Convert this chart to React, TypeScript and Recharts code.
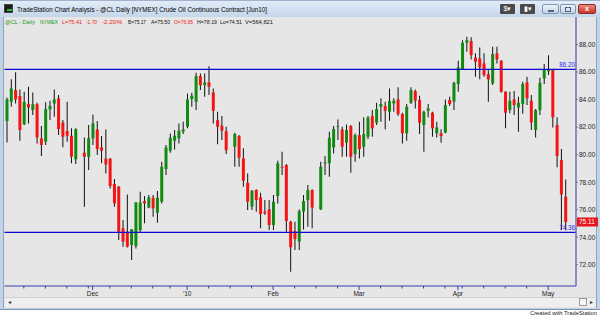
import React from 'react';
import { ComposedChart, Bar, XAxis, YAxis, ReferenceLine, Cell } from 'recharts';

// ---------- data ----------
const dates = [
  '2009-11-03','2009-11-04','2009-11-05','2009-11-06','2009-11-09','2009-11-10','2009-11-11','2009-11-12','2009-11-13','2009-11-16',
  '2009-11-17','2009-11-18','2009-11-19','2009-11-20','2009-11-23','2009-11-24','2009-11-25','2009-11-26','2009-11-27','2009-11-30',
  '2009-12-01','2009-12-02','2009-12-03','2009-12-04','2009-12-07','2009-12-08','2009-12-09','2009-12-10','2009-12-11','2009-12-14',
  '2009-12-15','2009-12-16','2009-12-17','2009-12-18','2009-12-21','2009-12-22','2009-12-23','2009-12-24','2009-12-28','2009-12-29',
  '2009-12-30','2009-12-31','2010-01-04','2010-01-05','2010-01-06','2010-01-07','2010-01-08','2010-01-11','2010-01-12','2010-01-13',
  '2010-01-14','2010-01-15','2010-01-18','2010-01-19','2010-01-20','2010-01-21','2010-01-22','2010-01-25','2010-01-26','2010-01-27',
  '2010-01-28','2010-01-29','2010-02-01','2010-02-02','2010-02-03','2010-02-04','2010-02-05','2010-02-08','2010-02-09','2010-02-10',
  '2010-02-11','2010-02-12','2010-02-15','2010-02-16','2010-02-17','2010-02-18','2010-02-19','2010-02-22','2010-02-23','2010-02-24',
  '2010-02-25','2010-02-26','2010-03-01','2010-03-02','2010-03-03','2010-03-04','2010-03-05','2010-03-08','2010-03-09','2010-03-10',
  '2010-03-11','2010-03-12','2010-03-15','2010-03-16','2010-03-17','2010-03-18','2010-03-19','2010-03-22','2010-03-23','2010-03-24',
  '2010-03-25','2010-03-26','2010-03-29','2010-03-30','2010-03-31','2010-04-01','2010-04-05','2010-04-06','2010-04-07','2010-04-08',
  '2010-04-09','2010-04-12','2010-04-13','2010-04-14','2010-04-15','2010-04-16','2010-04-19','2010-04-20','2010-04-21','2010-04-22',
  '2010-04-23','2010-04-26','2010-04-27','2010-04-28','2010-04-29','2010-04-30','2010-05-03','2010-05-04','2010-05-05','2010-05-06',
  '2010-05-07',
];

const opens = [
  82.44,83.84,84.69,84.26,82.20,83.67,83.24,83.67,81.18,80.94,
  83.29,83.72,84.09,82.34,81.71,81.38,79.66,null,80.14,79.85,
  81.18,81.83,80.53,79.71,79.71,77.87,77.67,74.65,74.40,73.44,
  73.36,74.52,76.63,76.15,76.87,75.78,76.58,78.95,80.29,81.01,
  81.18,81.67,82.03,84.04,83.84,85.71,85.05,85.25,84.52,82.51,
  82.10,81.71,null,80.58,81.35,79.73,77.96,76.22,77.43,76.90,
  75.86,76.03,74.89,77.00,79.12,79.25,75.13,74.45,73.68,75.86,
  76.70,77.43,null,76.03,79.37,79.37,80.53,82.03,81.83,80.87,
  82.08,80.05,81.42,80.58,81.30,82.80,82.32,83.48,83.53,83.12,
  83.72,84.01,82.95,81.55,83.77,84.62,83.97,82.15,83.19,83.05,
  81.55,81.55,81.60,83.97,83.85,85.13,86.22,88.13,88.25,87.06,
  86.99,86.63,85.85,85.18,87.36,86.82,84.57,83.24,84.01,83.43,
  83.68,85.25,83.92,81.79,83.24,85.54,86.05,86.14,82.15,79.61,
  76.95,
];

const highs = [
  84.16,85.47,85.98,84.74,84.57,84.93,84.52,83.77,82.08,83.80,
  83.92,84.74,84.33,82.51,83.84,81.91,81.91,null,81.25,82.15,
  82.92,82.44,81.35,81.83,79.75,78.23,77.72,75.25,77.10,74.60,
  76.55,77.31,76.99,77.07,77.07,77.36,79.49,80.70,81.54,81.79,
  82.27,82.39,84.45,84.50,85.95,85.90,85.90,86.43,84.81,83.12,
  82.80,82.03,null,81.59,81.42,80.46,78.64,77.43,77.48,77.24,
  76.70,76.70,77.07,79.56,80.21,79.32,75.20,75.13,76.03,77.07,
  77.79,77.48,null,79.49,79.90,81.67,82.08,82.56,82.03,82.20,
  82.15,81.54,82.39,82.71,82.80,83.24,83.77,84.09,83.85,84.81,
  84.09,84.89,83.05,83.68,84.89,84.74,84.28,83.19,83.68,83.12,
  82.39,81.84,84.01,84.21,85.30,86.82,88.32,88.57,88.52,87.36,
  87.79,87.36,86.14,87.84,87.84,86.87,84.60,84.57,84.62,84.21,
  85.30,85.66,84.33,83.31,85.59,86.58,87.23,86.19,82.71,80.41,
  78.19,
];

const lows = [
  80.89,83.48,83.72,81.01,82.15,82.27,82.88,80.82,79.90,80.70,
  82.51,82.75,81.42,80.53,80.94,79.37,79.32,null,76.22,78.88,
  80.70,79.97,79.37,78.64,77.55,76.22,73.80,73.31,73.25,72.35,
  73.19,74.33,75.01,76.10,75.49,75.06,76.46,78.52,80.14,80.38,
  80.82,81.50,81.91,83.48,83.24,84.69,84.21,84.33,82.27,80.75,
  81.06,80.04,null,79.12,79.12,77.67,75.98,75.98,75.86,74.65,
  75.61,74.52,74.52,76.46,78.52,74.40,71.50,73.07,73.07,74.57,
  74.76,74.65,null,75.98,78.52,78.40,80.09,81.06,79.85,79.85,
  78.69,79.49,79.73,79.85,81.13,81.30,82.15,82.39,81.84,82.46,
  83.12,82.80,80.82,81.01,83.68,83.36,81.50,80.21,82.71,81.30,
  81.25,80.87,81.55,83.53,83.24,84.57,86.15,87.48,86.92,85.66,
  85.47,85.66,83.85,85.06,86.63,84.50,81.91,83.00,82.88,81.67,
  82.97,83.60,81.79,81.25,82.88,85.13,85.78,81.98,79.08,74.52,
  74.51,
];

const closes = [
  84.01,84.81,84.01,81.79,83.84,83.43,83.67,81.25,80.70,83.31,
  83.55,84.01,81.86,81.30,81.38,79.85,81.86,null,79.85,81.20,
  82.27,80.41,80.29,79.29,77.72,76.46,74.40,73.68,73.31,74.57,
  76.53,76.53,76.46,76.90,76.10,76.87,79.12,80.53,81.23,81.38,
  81.74,81.83,84.01,84.28,85.71,85.05,85.25,84.93,83.19,82.03,
  81.74,80.33,null,81.50,79.78,78.11,76.58,77.38,76.70,75.69,
  75.74,74.89,76.58,79.37,79.05,75.18,73.27,73.87,75.90,76.63,
  77.43,76.15,null,79.13,79.44,81.23,81.86,82.08,80.58,81.79,
  79.85,81.42,80.41,81.50,82.68,81.91,83.31,83.68,83.19,83.89,
  83.92,82.95,81.55,83.48,84.69,83.92,82.32,83.12,83.36,81.91,
  81.98,81.35,83.60,83.68,85.22,86.34,88.13,88.32,87.23,86.75,
  86.34,85.78,85.47,87.31,86.92,84.57,83.05,83.92,83.60,83.77,
  85.13,84.09,82.34,83.24,85.22,86.19,86.19,82.71,79.90,77.11,
  75.11,
];

const priceTicks = [72, 74, 76, 78, 80, 82, 84, 86, 88];
const supportLines = [86.2, 74.36];
const monthNames: Record<string, string> = { '12': 'Dec', '01': "'10", '02': 'Feb', '03': 'Mar', '04': 'Apr', '05': 'May', '11': 'Nov' };

const headerTexts = ['@CL - Daily', 'NYMEX', 'L=75.41', '-1.70', '-2.20%', 'B=75.17', 'A=75.50', 'O=76.95', 'H=78.19', 'Lo=74.51', 'V=564,821'];
const headerColors = ['#1b9a1b', '#1b9a1b', '#f01818', '#f01818', '#f01818', '#111', '#111', '#f01818', '#111', '#111', '#111'];
const headerX = [5, 40, 62, 86, 102, 128, 151, 174, 197, 220, 245];
const headerW = [30, 18, 20, 11, 20, 18, 19, 19, 20, 22, 28];

// ---------- derived table ----------
const data = dates.map((d, i) => ({
  date: d,
  open: opens[i],
  high: highs[i],
  low: lows[i],
  close: closes[i],
}));

const lastClose = closes[closes.length - 1] as number;

const weekStarts: string[] = [];
const monthStart: Record<string, string> = {};
dates.forEach((d, i) => {
  const day = new Date(d + 'T12:00:00Z').getUTCDay();
  const prevDay = i > 0 ? new Date(dates[i - 1] + 'T12:00:00Z').getUTCDay() : 99;
  const newMonth = i > 0 && d.slice(5, 7) !== dates[i - 1].slice(5, 7);
  if (i > 0 && (day <= prevDay || newMonth)) weekStarts.push(d);
  if (newMonth) monthStart[d] = monthNames[d.slice(5, 7)];
});

const wickKey = (d: any) => (d.low == null ? null : [d.low, d.high]);
const bodyKey = (d: any) =>
  d.open == null ? null : [Math.min(d.open, d.close), Math.max(d.open, d.close)];

const FONT = '"Liberation Sans", Arial, sans-serif';
const PLOT_RIGHT = 576;

const XTick = (props: any) => {
  const { x, y, payload } = props;
  const label = monthStart[payload.value];
  return (
    <g>
      <line x1={x} x2={x} y1={y} y2={y + (label ? 4 : 2.5)} stroke="#3c3ca8" strokeWidth={1} />
      {label ? (
        <text x={x} y={y + 10} textAnchor="middle" fontSize={6.5} fill="#222" fontFamily={FONT}>
          {label}
        </text>
      ) : null}
    </g>
  );
};

const LineTag = (props: any) => {
  const { viewBox, value } = props;
  if (!viewBox) return null;
  return (
    <text x={PLOT_RIGHT - 1} y={viewBox.y - 2} textAnchor="end" fontSize={6.3} fill="#2a2af0" fontFamily={FONT}>
      {value}
    </text>
  );
};

const PriceTag = (props: any) => {
  const { viewBox } = props;
  if (!viewBox) return null;
  const y = viewBox.y;
  return (
    <g>
      <rect x={PLOT_RIGHT + 1} y={y - 4.5} width={21} height={9} fill="#e8161c" />
      <text x={PLOT_RIGHT + 3} y={y} dy="0.35em" fontSize={6.5} fill="#fff" fontFamily={FONT}>
        {lastClose.toFixed(2)}
      </text>
    </g>
  );
};

export default function App() {
  const abs = (s: React.CSSProperties): React.CSSProperties => ({ position: 'absolute', ...s });
  return (
    <div style={abs({ left: 0, top: 0, width: 600, height: 317, background: '#fff', overflow: 'hidden', fontFamily: FONT })}>
      {/* window frame */}
      <div style={abs({ left: 0, top: 0, width: 600, height: 310, background: '#c3d3e6', borderBottom: '1px solid #7d93b0', boxSizing: 'border-box' })} />
      {/* title bar */}
      <div style={abs({ left: 0, top: 0, width: 600, height: 17, background: 'linear-gradient(#e3ecf7, #c4d6ea)', borderTop: '1px solid #9fb4cc', boxSizing: 'border-box' })} />
      <div style={abs({ left: 4, top: 4, width: 9, height: 9, background: '#1d1d1d', border: '1px solid #444', boxSizing: 'border-box' })}>
        <div style={abs({ left: 2, top: 4, width: 5, height: 2, background: '#2bbd2b' })} />
      </div>
      <svg style={abs({ left: 0, top: 0 })} width={600} height={17}>
        <text x={17} y={11.5} fontSize={6.4} fill="#000" fontFamily={FONT} textLength={250} lengthAdjust="spacingAndGlyphs">
          TradeStation Chart Analysis - @CL Daily [NYMEX] Crude Oil Continuous Contract [Jun10]
        </text>
      </svg>
      {/* title buttons */}
      <div style={abs({ left: 500, top: 4, width: 15, height: 10, background: '#4a4a4a', borderRadius: 1, color: '#fff', fontSize: 7, lineHeight: '10px', textAlign: 'center' })}>$▾</div>
      <div style={abs({ left: 520, top: 4, width: 15, height: 10, background: '#4a4a4a', borderRadius: 1, color: '#fff', fontSize: 7, lineHeight: '10px', textAlign: 'center' })}>▮▾</div>
      <div style={abs({ left: 542, top: 4, width: 17, height: 10, background: 'linear-gradient(#eef3f9,#c4d3e4)', border: '1px solid #7e95b1', borderRadius: 2, boxSizing: 'border-box' })}>
        <div style={abs({ left: 5, top: 5, width: 6, height: 2, background: '#4d6582' })} />
      </div>
      <div style={abs({ left: 560, top: 4, width: 16, height: 10, background: 'linear-gradient(#eef3f9,#c4d3e4)', border: '1px solid #7e95b1', borderRadius: 2, boxSizing: 'border-box' })}>
        <div style={abs({ left: 4, top: 1.5, width: 6, height: 5, border: '1px solid #4d6582', boxSizing: 'border-box' })} />
      </div>
      <div style={abs({ left: 578, top: 4, width: 18, height: 10, background: 'linear-gradient(#e88a7c,#c8352a)', border: '1px solid #8a2a22', borderRadius: 2, boxSizing: 'border-box', color: '#fff', fontSize: 7, lineHeight: '8px', textAlign: 'center', fontWeight: 'bold' })}>x</div>

      {/* chart window interior */}
      <div style={abs({ left: 4, top: 17, width: 592, height: 291, background: '#e6e6e6' })} />
      <div style={abs({ left: 3, top: 17, width: 1, height: 291, background: '#8ea4bf' })} />
      <div style={abs({ left: 596, top: 17, width: 1, height: 291, background: '#8ea4bf' })} />

      {/* scrollbar */}
      <div style={abs({ left: 5, top: 297, width: 590, height: 10, background: '#efefef', borderTop: '1px solid #d0d0d0', boxSizing: 'border-box' })} />
      <div style={abs({ left: 8, top: 298, fontSize: 6, color: '#333', lineHeight: '8px' })}>◂</div>
      <div style={abs({ left: 579, top: 298, width: 8, height: 8, background: '#f6f6f6', border: '1px solid #9a9a9a', boxSizing: 'border-box' })} />
      <div style={abs({ left: 590, top: 298, fontSize: 6, color: '#333', lineHeight: '8px' })}>▸</div>

      {/* chart */}
      <div style={abs({ left: 0, top: 0 })}>
        <ComposedChart
          width={600}
          height={317}
          data={data}
          margin={{ top: 17, right: 0, bottom: 0, left: 4.5 }}
          style={{ fontFamily: FONT }}
        >
          <XAxis
            xAxisId="main"
            dataKey="date"
            type="category"
            height={31}
            padding={{ left: 0, right: 8.5 }}
            ticks={weekStarts}
            interval={0}
            tick={<XTick />}
            tickSize={0}
            tickMargin={0}
            tickLine={false}
            axisLine={{ stroke: '#3c3ca8', strokeWidth: 1 }}
          />
          <XAxis xAxisId="wick" dataKey="date" type="category" hide padding={{ left: 0, right: 8.5 }} />
          <YAxis
            orientation="right"
            width={24}
            domain={[70.46, 90]}
            allowDataOverflow
            ticks={priceTicks}
            interval={0}
            tickFormatter={(v: number) => v.toFixed(2)}
            tick={{ fontSize: 6.5, fill: '#222', fontFamily: FONT }}
            tickSize={2}
            tickMargin={1}
            tickLine={{ stroke: '#6f6fb8' }}
            axisLine={{ stroke: '#6f6fb8', strokeWidth: 1.5 }}
          />
          {supportLines.map((v) => (
            <ReferenceLine
              key={v}
              xAxisId="main"
              y={v}
              stroke="#0a0ad0"
              strokeWidth={1.2}
              label={<LineTag value={v.toFixed(2)} />}
            />
          ))}
          <Bar xAxisId="wick" dataKey={wickKey} barSize={1} fill="#111" isAnimationActive={false} />
          <Bar xAxisId="main" dataKey={bodyKey} barSize={3} isAnimationActive={false}>
            {data.map((d, i) => (
              <Cell key={i} fill={d.close != null && d.open != null && d.close >= d.open ? '#128a12' : '#f51414'} />
            ))}
          </Bar>
          <ReferenceLine xAxisId="main" y={lastClose} stroke="none" label={<PriceTag />} />
        </ComposedChart>
      </div>

      {/* header readout */}
      <svg style={abs({ left: 0, top: 17 })} width={300} height={10}>
        {headerTexts.map((t, i) => (
          <text
            key={t}
            x={headerX[i]}
            y={7}
            fontSize={6.2}
            fill={headerColors[i]}
            fontFamily={FONT}
            textLength={headerW[i]}
            lengthAdjust="spacingAndGlyphs"
          >
            {t}
          </text>
        ))}
      </svg>

      <div style={abs({ right: 3, top: 310, fontSize: 5.8, color: '#222', whiteSpace: 'nowrap', lineHeight: '7px' })}>
        Created with TradeStation
      </div>
    </div>
  );
}
